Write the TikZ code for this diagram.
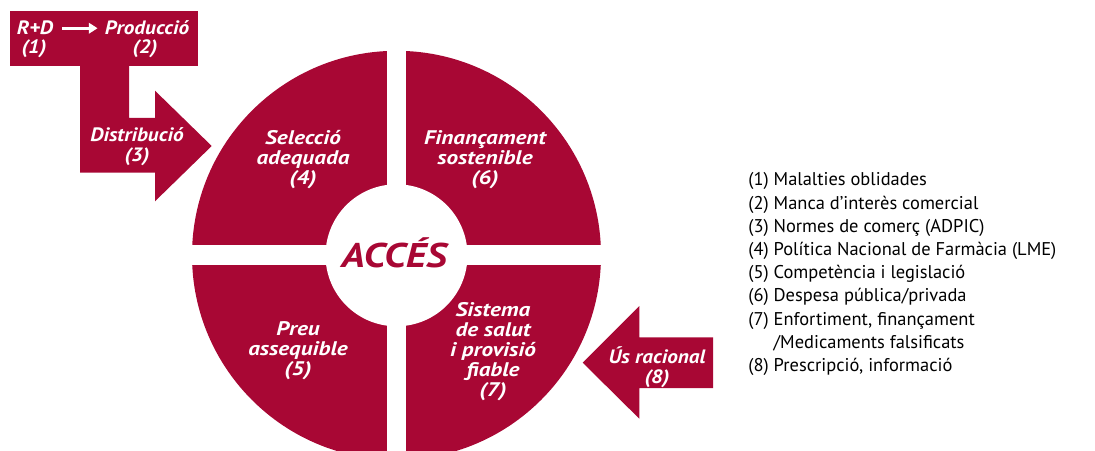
\documentclass[tikz,border=0pt]{standalone}
\usepackage{fontspec}
\setmainfont{PT Sans}
\newfontfamily\quadrantfont[FakeStretch=1.18]{PT Sans}
\newfontfamily\fletxafont[FakeStretch=1.1]{PT Sans}
\usetikzlibrary{arrows.meta}
\definecolor{accesred}{RGB}{168,7,52}

\begin{document}
\begin{tikzpicture}[x=0.02cm,y=0.02cm]
                \useasboundingbox (0,0) rectangle (1095,450);
                \clip (0,0) rectangle (1095,450);

                \tikzset{BlokText/.style={text=white, font=\fletxafont\fontsize{11}{11.4}\selectfont\bfseries\itshape, align=center, inner sep=0pt}}
                \tikzset{QuadText/.style={BlokText, font=\quadrantfont\fontsize{11.2}{11.4}\selectfont\bfseries\itshape}}
                \tikzset{LlegText/.style={font=\fontsize{10.5}{13.2}\selectfont, align=left, anchor=north west, inner sep=0pt}}



                \fill[accesred] (396.5,194.7) circle (204.5);
                \fill[white] (396.5,194.7) circle (71);
                \fill[white] (387,-10) rectangle (406,405);
                \fill[white] (188,184.7) rectangle (605,204.7);

                \node[text=accesred, font=\quadrantfont\fontsize{19.5}{19.5}\selectfont\bfseries\itshape, inner sep=0pt] (acces) at (394,197) {ACCÉS};

                \node[QuadText] (seleccio) at (303,290) {Selecció\\adequada\\(4)};
                \node[QuadText] (financament) at (485,290) {Finançament\\sostenible\\(6)};
                \node[QuadText] (preu) at (298,99) {Preu\\assequible\\(5)};
                \node[QuadText] (sistema) at (493,98.5) {Sistema\\de salut\\i provisió\\fiable\\(7)};

          

                \fill[accesred] (10,384.3) rectangle (198,439);
                \fill[accesred] (80,384.3) -- (129,384.3) -- (129,332) -- (155,332) -- (155,359.3) -- (211.7,304) -- (155,248.7) -- (155,277.3) -- (80,277.3) -- cycle;

                \node[BlokText, anchor=base] (rd) at (35,415) {R+D};
                \node[BlokText, anchor=base] (rdnum) at (34,396) {(1)};
                \node[BlokText, anchor=base] (produccio) at (147,415) {Producció};
                \node[BlokText, anchor=base] (produccionum) at (145,396) {(2)};
                \draw[white, line width=1.7pt, shorten <=5pt, shorten >=4pt, -{Triangle[length=5pt,width=6pt]}] (rd.east) -- (produccio.west |- rd.east);

                \node[BlokText] (distribucio) at (137,303) {Distribució\\(3)};

          

                \fill[accesred] (582.7,87.3) -- (639.3,144) -- (639.3,112.7) -- (713,112.7) -- (713,62) -- (639.3,62) -- (639.3,31.3) -- cycle;
                \node[BlokText] (usracional) at (657,83) {Ús racional\\(8)};

          

                \node[LlegText] (llegenda) at (748,277.5) {(1) Malalties oblidades\\
                (2) Manca d’interès comercial\\
                (3) Normes de comerç (ADPIC)\\
                (4) Política Nacional de Farmàcia (LME)\\
                (5) Competència i legislació\\
                (6) Despesa pública/privada\\
                (7) Enfortiment, finançament\\
                \phantom{(7) }/Medicaments falsificats\\
                (8) Prescripció, informació};


                \end{tikzpicture}
\end{document}
